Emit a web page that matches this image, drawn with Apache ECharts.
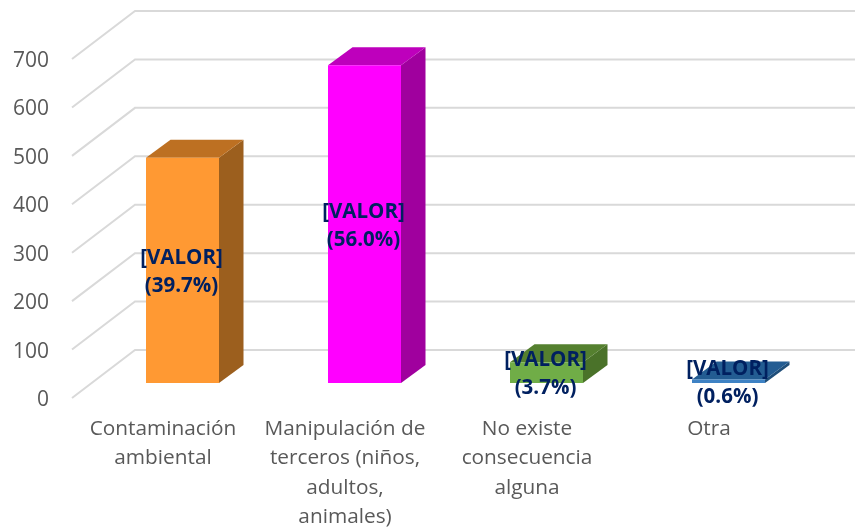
<!DOCTYPE html>
<html><head><meta charset="utf-8"><style>html,body{margin:0;background:#fff}#c{width:855px;height:529px}</style>
<script src="https://cdn.jsdelivr.net/npm/echarts@6/dist/echarts.min.js"></script></head>
<body><div id="c"></div><script>
const categories = ['Contaminación\nambiental','Manipulación de\nterceros (niños,\nadultos,\nanimales)','No existe\nconsecuencia\nalguna','Otra'];
const values = [465, 656, 43, 7];
const percents = ['39.7%','56.0%','3.7%','0.6%'];
const yTicks = [0,100,200,300,400,500,600,700];
const frontColors = ['#FF9933','#FF00FF','#70AD47','#3E82C4'];
const sideColors = ['#9C5F1E','#A0009E','#4A7229','#1F4E79'];
const topColors = ['#BD7022','#BE00BC','#55802F','#235C92'];
const font = '"Open Sans", sans-serif';
const WALL = [63,-48], BAR_NEAR = [19.5,-15], BAR_DEPTH = [24.5,-18], BAR_W = 73;
const chart = echarts.init(document.getElementById('c'), null, {renderer:'canvas'});
const poly = (pts, fill) => ({type:'polygon', shape:{points:pts}, style:{fill}});
chart.setOption({
  animation:false,
  backgroundColor:'#fff',
  grid:{left:72, width:728, top:59, height:339, outerBoundsMode:'none', containLabel:false},
  xAxis:{type:'category', data:categories, axisLine:{show:false}, axisTick:{show:false},
    axisLabel:{color:'#595959', fontFamily:font, fontSize:20.8, lineHeight:29.5, margin:16, interval:0, hideOverlap:false}},
  yAxis:{type:'value', min:0, max:700, interval:100, splitLine:{show:false}, axisLine:{show:false}, axisTick:{show:false},
    axisLabel:{margin:23, formatter:'{t|{value}}',
      rich:{t:{color:'#595959', fontFamily:font, fontSize:21, padding:[4,0,0,0]}}}},
  series:[
    {type:'custom', coordinateSystem:'cartesian2d', z:1, clip:false, silent:true,
     data:yTicks.map(t=>[0,t]), encode:{x:0,y:1},
     renderItem(params, api){
       const y = api.coord([0, api.value(1)])[1], cs = params.coordSys;
       return {type:'polyline', shape:{points:[[cs.x,y],[cs.x+WALL[0],y+WALL[1]],[cs.x+cs.width+WALL[0],y+WALL[1]]]},
         style:{stroke:'#D9D9D9', lineWidth:2, fill:null}};
     }},
    {type:'custom', coordinateSystem:'cartesian2d', z:2, clip:false, silent:true,
     data:values.map((v,i)=>[i,v]), encode:{x:0,y:1},
     renderItem(params, api){
       const i = params.dataIndex;
       const base = api.coord([api.value(0), 0]), top = api.coord([api.value(0), api.value(1)]);
       const xl = base[0]-BAR_W/2+BAR_NEAR[0], xr = xl+BAR_W;
       const yb = base[1]+BAR_NEAR[1], yt = top[1]+BAR_NEAR[1];
       const dx = BAR_DEPTH[0], dy = BAR_DEPTH[1];
       return {type:'group', children:[
         poly([[xr,yb],[xr+dx,yb+dy],[xr+dx,yt+dy],[xr,yt]], sideColors[i]),
         poly([[xl,yt],[xr,yt],[xr+dx,yt+dy],[xl+dx,yt+dy]], topColors[i]),
         poly([[xl,yb],[xr,yb],[xr,yt],[xl,yt]], frontColors[i]),
         {type:'text', x:(xl+xr)/2-1, y:(yb+yt)/2+2, style:{text:'[VALOR]\n('+percents[i]+')', fill:'#002060',
           font:'bold 20.5px '+font, lineHeight:28, align:'center', verticalAlign:'middle'}}
       ]};
     }}
  ]
});
</script></body></html>
